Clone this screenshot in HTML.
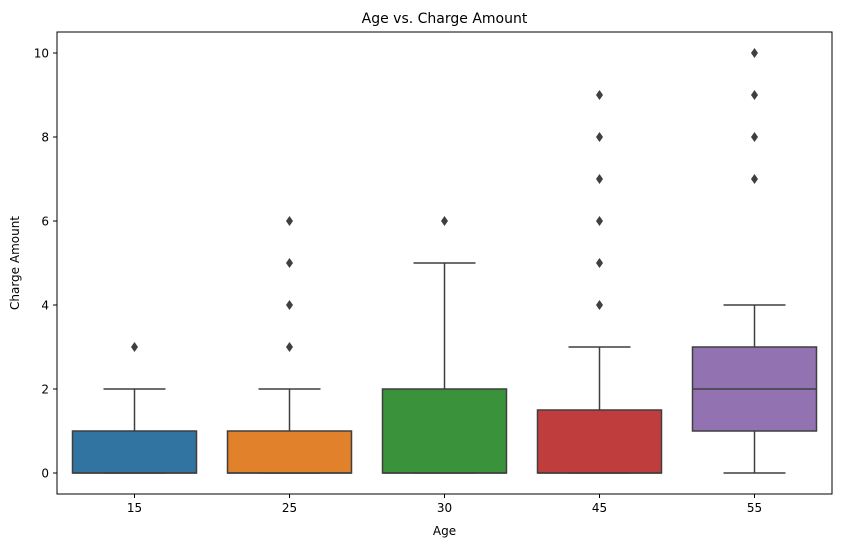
<!DOCTYPE html>
<html><head><meta charset="utf-8"><style>
body{margin:0;background:#fff;font-family:"Liberation Sans","DejaVu Sans",sans-serif;}
svg text{font-family:"DejaVu Sans","Liberation Sans",sans-serif;fill:#000;}
</style></head><body>
<svg id="chart" width="841" height="547" viewBox="0 0 841 547">
<rect x="0" y="0" width="841" height="547" fill="#fff"/>
<text x="444.5" y="23" text-anchor="middle" font-size="14">Age vs. Charge Amount</text>
<g id="plot"></g>
<rect x="57" y="32" width="775" height="462" fill="none" stroke="#000" stroke-width="1"/>
<text x="444.5" y="535" text-anchor="middle" font-size="12">Age</text>
<text transform="translate(19,263) rotate(-90)" text-anchor="middle" font-size="12">Charge Amount</text>
</svg>
<script>
const categories = ["15","25","30","45","55"];
const q1 = [0,0,0,0,1];
const medians = [0,0,0,0,2];
const q3 = [1,1,2,1.5,3];
const whiskerLow = [0,0,0,0,0];
const whiskerHigh = [2,2,5,3,4];
const outliers = [[3],[3,4,5,6],[6],[4,5,6,7,8,9],[7,8,9,10]];
const yTicks = [0,2,4,6,8,10];
const colors = ["#3274a1","#e1812c","#3a923a","#c03d3e","#9372b2"];

const NS="http://www.w3.org/2000/svg";
const g=document.getElementById('plot');
const svg=document.getElementById('chart');
const L=57,R=832,T=32,B=494;
function y(v){return 473-(v/10)*420;}
const step=(R-L)/categories.length;
function x(i){return L+step*(i+0.5);}
const bw=step*0.8;
function el(tag,attrs,parent){const e=document.createElementNS(NS,tag);for(const k in attrs)e.setAttribute(k,attrs[k]);(parent||g).appendChild(e);return e;}

yTicks.forEach(t=>{
  const tk=el('line',{x1:L-4,x2:L,y1:y(t),y2:y(t),stroke:'#000'},svg);
  
  
  const lb=el('text',{x:L-8,y:y(t)+4.5,'text-anchor':'end','font-size':'12'},svg);
  lb.textContent=t;
  
  
});
categories.forEach((c,i)=>{
  const cx=x(i);
  const tk=el('line',{x1:cx,x2:cx,y1:B,y2:B+4,stroke:'#000'},svg);
  
  
  const lb=el('text',{x:cx,y:B+18,'text-anchor':'middle','font-size':'12'},svg);
  lb.textContent=c;
  
  
  const grp=el('g',{});
  
  
  const st='#3f3f3f';
  const w1=el('line',{x1:cx,x2:cx,y1:y(q1[i]),y2:y(whiskerLow[i]),stroke:st,'stroke-width':1.5},grp);
  
  
  const w2=el('line',{x1:cx,x2:cx,y1:y(q3[i]),y2:y(whiskerHigh[i]),stroke:st,'stroke-width':1.5},grp);
  
  
  const c1=el('line',{x1:cx-bw/4,x2:cx+bw/4,y1:y(whiskerLow[i]),y2:y(whiskerLow[i]),stroke:st,'stroke-width':1.5},grp);
  
  
  const c2=el('line',{x1:cx-bw/4,x2:cx+bw/4,y1:y(whiskerHigh[i]),y2:y(whiskerHigh[i]),stroke:st,'stroke-width':1.5},grp);
  
  
  const bx=el('rect',{x:cx-bw/2,y:y(q3[i]),width:bw,height:y(q1[i])-y(q3[i]),fill:colors[i],stroke:st,'stroke-width':1.5},grp);
  
  
  const md=el('line',{x1:cx-bw/2,x2:cx+bw/2,y1:y(medians[i]),y2:y(medians[i]),stroke:st,'stroke-width':1.5},grp);
  
  
  outliers[i].forEach(o=>{
    const p=el('path',{d:`M${cx},${y(o)-5} L${cx+3.5},${y(o)} L${cx},${y(o)+5} L${cx-3.5},${y(o)} Z`,fill:st},grp);
    
    
  });
});
</script>
</body></html>
